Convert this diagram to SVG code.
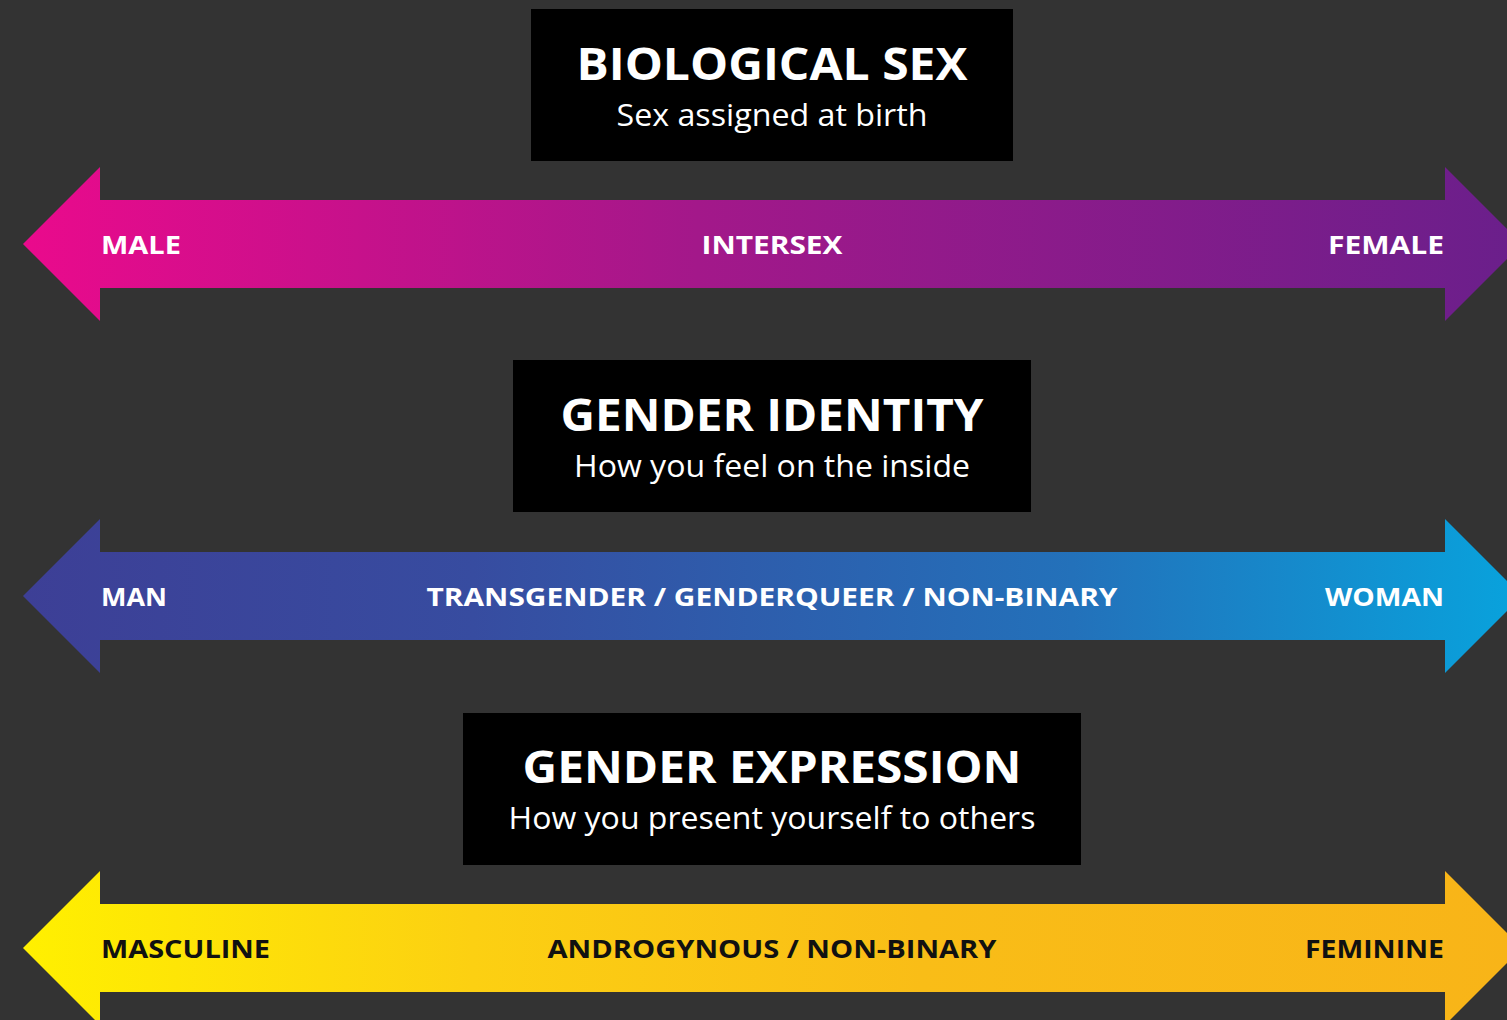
<svg xmlns="http://www.w3.org/2000/svg" width="1507" height="1020" viewBox="0 0 1507 1020">
  <defs>
    <linearGradient id="gSex" x1="23" y1="0" x2="1522" y2="0" gradientUnits="userSpaceOnUse">
      <stop offset="0" stop-color="#ea0a8c"/>
      <stop offset="0.45" stop-color="#a3188a"/>
      <stop offset="1" stop-color="#6a1f8b"/>
    </linearGradient>
    <linearGradient id="gIdentity" x1="23" y1="0" x2="1522" y2="0" gradientUnits="userSpaceOnUse">
      <stop offset="0" stop-color="#3d3f96"/>
      <stop offset="0.3" stop-color="#374ca0"/>
      <stop offset="0.7" stop-color="#2371ba"/>
      <stop offset="1" stop-color="#08a3dd"/>
    </linearGradient>
    <linearGradient id="gExpression" x1="23" y1="0" x2="1522" y2="0" gradientUnits="userSpaceOnUse">
      <stop offset="0" stop-color="#fff000"/>
      <stop offset="0.3" stop-color="#fcd012"/>
      <stop offset="0.6" stop-color="#f9bd17"/>
      <stop offset="1" stop-color="#f8b418"/>
    </linearGradient>
    <!-- double-headed arrow centred on y=0 -->
    <polygon id="spectrum" points="23,0 100,-77 100,-44 1445,-44 1445,-77 1522,0 1445,77 1445,44 100,44 100,77"/>
  </defs>
  <style>
    .box { fill: #000; }
    .title { font-family: "Open Sans", "Liberation Sans", sans-serif; font-weight: 700; font-size: 45px; fill: #fff; text-anchor: middle; }
    .sub { font-family: "Open Sans", "Liberation Sans", sans-serif; font-weight: 400; font-size: 31px; fill: #fff; text-anchor: middle; }
    .lbl { font-family: "Open Sans", "Liberation Sans", sans-serif; font-weight: 700; font-size: 25px; fill: #fff; }
    .dark { fill: #111; }
    .mid { text-anchor: middle; }
    .end { text-anchor: end; }
  </style>
  <rect width="1507" height="1020" fill="#333333"/>

  <g id="connectors">
    <use href="#spectrum" transform="translate(0,244)" fill="url(#gSex)"/>
    <use href="#spectrum" transform="translate(0,596)" fill="url(#gIdentity)"/>
    <use href="#spectrum" transform="translate(0,948)" fill="url(#gExpression)"/>
  </g>

  <g id="biological-sex">
    <rect class="box" x="531" y="9" width="482" height="152"/>
    <text class="title" x="772" y="80" textLength="391" lengthAdjust="spacingAndGlyphs">BIOLOGICAL SEX</text>
    <text class="sub" x="772" y="126" textLength="311" lengthAdjust="spacingAndGlyphs">Sex assigned at birth</text>
  </g>
  <g id="sex-labels">
    <text class="lbl" x="101" y="254" textLength="80" lengthAdjust="spacingAndGlyphs">MALE</text>
    <text class="lbl mid" x="772" y="254" textLength="141" lengthAdjust="spacingAndGlyphs">INTERSEX</text>
    <text class="lbl end" x="1444" y="254" textLength="116" lengthAdjust="spacingAndGlyphs">FEMALE</text>
  </g>

  <g id="gender-identity">
    <rect class="box" x="513" y="360" width="518" height="152"/>
    <text class="title" x="772" y="431" textLength="423" lengthAdjust="spacingAndGlyphs">GENDER IDENTITY</text>
    <text class="sub" x="772" y="477" textLength="396" lengthAdjust="spacingAndGlyphs">How you feel on the inside</text>
  </g>
  <g id="identity-labels">
    <text class="lbl" x="101" y="606" textLength="66" lengthAdjust="spacingAndGlyphs">MAN</text>
    <text class="lbl mid" x="772" y="606" textLength="691" lengthAdjust="spacingAndGlyphs">TRANSGENDER / GENDERQUEER / NON-BINARY</text>
    <text class="lbl end" x="1444" y="606" textLength="119" lengthAdjust="spacingAndGlyphs">WOMAN</text>
  </g>

  <g id="gender-expression">
    <rect class="box" x="463" y="713" width="618" height="152"/>
    <text class="title" x="772" y="783" textLength="499" lengthAdjust="spacingAndGlyphs">GENDER EXPRESSION</text>
    <text class="sub" x="772" y="829" textLength="527" lengthAdjust="spacingAndGlyphs">How you present yourself to others</text>
  </g>
  <g id="expression-labels">
    <text class="lbl dark" x="101" y="958" textLength="169" lengthAdjust="spacingAndGlyphs">MASCULINE</text>
    <text class="lbl dark mid" x="772" y="958" textLength="449" lengthAdjust="spacingAndGlyphs">ANDROGYNOUS / NON-BINARY</text>
    <text class="lbl dark end" x="1444" y="958" textLength="139" lengthAdjust="spacingAndGlyphs">FEMININE</text>
  </g>
</svg>
